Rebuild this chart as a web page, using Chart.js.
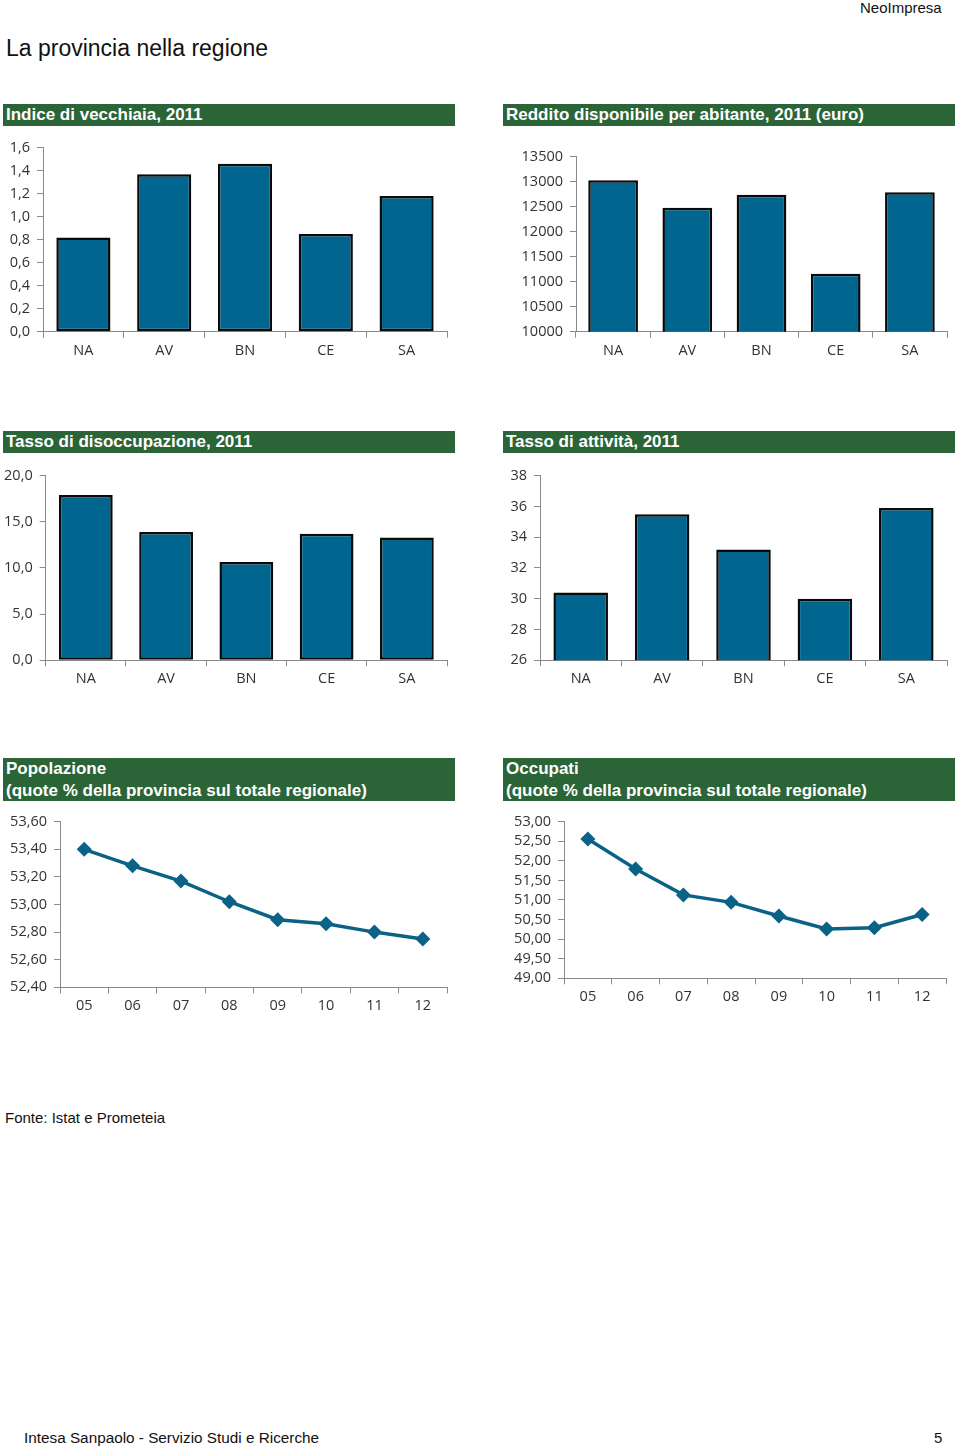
<!DOCTYPE html>
<html>
<head>
<meta charset="utf-8">
<script src="https://cdn.jsdelivr.net/npm/chart.js@4.4.1/dist/chart.umd.min.js"></script>
<style>
  html, body { margin:0; padding:0; background:#fff; }
  body { width:960px; height:1450px; position:relative; overflow:hidden; font-family:"Liberation Sans", Arial, sans-serif; }
  .txt { position:absolute; white-space:nowrap; color:#111; }
  .hdr { position:absolute; background:#2b6437; color:#fff; font-weight:bold; font-size:17px; line-height:22px; padding-left:3px; box-sizing:border-box; white-space:nowrap; }
  canvas { position:absolute; }
</style>
</head>
<body>
<div class="txt" style="left:860px; top:-1px; font-size:15px;">NeoImpresa</div>
<div class="txt" style="left:6px; top:35px; font-size:23px;">La provincia nella regione</div>

<div class="hdr" style="left:3px; top:104px; width:452px; height:22px;">Indice di vecchiaia, 2011</div>
<div class="hdr" style="left:503px; top:104px; width:452px; height:22px;">Reddito disponibile per abitante, 2011 (euro)</div>
<div class="hdr" style="left:3px; top:431px; width:452px; height:22px;">Tasso di disoccupazione, 2011</div>
<div class="hdr" style="left:503px; top:431px; width:452px; height:22px;">Tasso di attività, 2011</div>
<div class="hdr" style="left:3px; top:758px; width:452px; height:43px;">Popolazione<br>(quote % della provincia sul totale regionale)</div>
<div class="hdr" style="left:503px; top:758px; width:452px; height:43px;">Occupati<br>(quote % della provincia sul totale regionale)</div>

<canvas id="c1"></canvas>
<canvas id="c2"></canvas>
<canvas id="c3"></canvas>
<canvas id="c4"></canvas>
<canvas id="c5"></canvas>
<canvas id="c6"></canvas>

<div class="txt" style="left:5px; top:1109px; font-size:15px;">Fonte: Istat e Prometeia</div>
<div class="txt" style="left:24px; top:1429px; font-size:15.3px;">Intesa Sanpaolo - Servizio Studi e Ricerche</div>
<div class="txt" style="left:934px; top:1429px; font-size:15px;">5</div>

<script>
// ---- data ----
const provinces = ["NA", "AV", "BN", "CE", "SA"];
const years = ["05", "06", "07", "08", "09", "10", "11", "12"];

const vecchiaia = [0.82, 1.37, 1.46, 0.85, 1.18];
const reddito = [13030, 12480, 12740, 11160, 12790];
const disoccupazione = [17.9, 13.9, 10.65, 13.7, 13.3];
const attivita = [30.4, 35.5, 33.2, 30.0, 35.9];
const popolazione = [53.40, 53.28, 53.17, 53.02, 52.89, 52.86, 52.80, 52.75];
const occupati = [52.56, 51.79, 51.13, 50.94, 50.59, 50.26, 50.29, 50.63];

// y-axis tick settings
const ticks1 = { min: 0, max: 1.6, step: 0.2, dec: 1 };
const ticks2 = { min: 10000, max: 13500, step: 500, dec: 0 };
const ticks3 = { min: 0, max: 20, step: 5, dec: 1 };
const ticks4 = { min: 26, max: 38, step: 2, dec: 0 };
const ticks5 = { min: 52.4, max: 53.6, step: 0.2, dec: 2 };
const ticks6 = { min: 49, max: 53, step: 0.5, dec: 2 };

// ---- drawing ----
const BLUE = "#00668f";
const LINEBLUE = "#0a6287";
const AXIS = "#8a8a8a";
const FONT = { family: "'Open Sans', 'Noto Sans', sans-serif", size: 14.5 };

function fmt(v, dec) {
  return dec === 0 ? String(Math.round(v)) : v.toFixed(dec).replace('.', ',');
}

function makeChart(id, box, plot, type, labels, data, t) {
  const cv = document.getElementById(id);
  cv.width = box.w; cv.height = box.h;
  cv.style.left = box.x + "px"; cv.style.top = box.y + "px";
  cv.style.width = box.w + "px"; cv.style.height = box.h + "px";
  const yWidth = plot.l - box.x;
  const rightPad = box.x + box.w - plot.r;
  const topPad = plot.t - box.y;
  const xHeight = box.y + box.h - plot.b;

  const ds = type === "bar" ? {
    data: data, backgroundColor: BLUE, borderColor: "#0a0a0a", borderWidth: 2.5,
    borderSkipped: false, categoryPercentage: 1.0, barPercentage: 0.67
  } : {
    data: data, borderColor: LINEBLUE, backgroundColor: LINEBLUE, borderWidth: 3.5,
    pointStyle: "rectRot", pointRadius: 7.5, pointBorderWidth: 0, pointBackgroundColor: LINEBLUE,
    tension: 0
  };

  new Chart(cv, {
    type: type,
    data: { labels: labels, datasets: [ds] },
    options: {
      responsive: false, animation: false, devicePixelRatio: 1,
      layout: { padding: { left: 0, right: rightPad, top: topPad, bottom: 0 } },
      plugins: { legend: { display: false }, tooltip: { enabled: false } },
      scales: {
        x: {
          offset: true,
          grid: { display: true, offset: true, drawOnChartArea: false, drawTicks: true, tickLength: 6, color: AXIS, lineWidth: 1 },
          border: { display: true, color: AXIS, width: 1 },
          ticks: { font: FONT, color: "#333", padding: 4, maxRotation: 0, autoSkip: false },
          afterFit: (s) => { s.height = xHeight; }
        },
        y: {
          min: t.min, max: t.max,
          grid: { display: true, drawOnChartArea: false, drawTicks: true, tickLength: 6, color: AXIS, lineWidth: 1 },
          border: { display: true, color: AXIS, width: 1 },
          ticks: { stepSize: t.step, font: FONT, color: "#333", padding: 7, autoSkip: false,
                   callback: (v) => fmt(v, t.dec) },
          afterFit: (s) => { s.width = yWidth; }
        }
      }
    }
  });
}

makeChart("c1", { x: 0, y: 132, w: 460, h: 234 }, { l: 43, r: 447, t: 144.3, b: 331.7 }, "bar", provinces, vecchiaia, ticks1);
makeChart("c2", { x: 500, y: 140, w: 460, h: 226 }, { l: 576, r: 947, t: 156.7, b: 331.7 }, "bar", provinces, reddito, ticks2);
makeChart("c3", { x: 0, y: 460, w: 460, h: 234 }, { l: 45.7, r: 447, t: 473.3, b: 660.3 }, "bar", provinces, disoccupazione, ticks3);
makeChart("c4", { x: 500, y: 460, w: 460, h: 234 }, { l: 540, r: 947, t: 473.3, b: 660.3 }, "bar", provinces, attivita, ticks4);
makeChart("c5", { x: 0, y: 806, w: 460, h: 215 }, { l: 60, r: 447, t: 819.3, b: 987.3 }, "line", years, popolazione, ticks5);
makeChart("c6", { x: 500, y: 806, w: 460, h: 206 }, { l: 564, r: 946, t: 820.3, b: 978.3 }, "line", years, occupati, ticks6);
</script>
</body>
</html>
